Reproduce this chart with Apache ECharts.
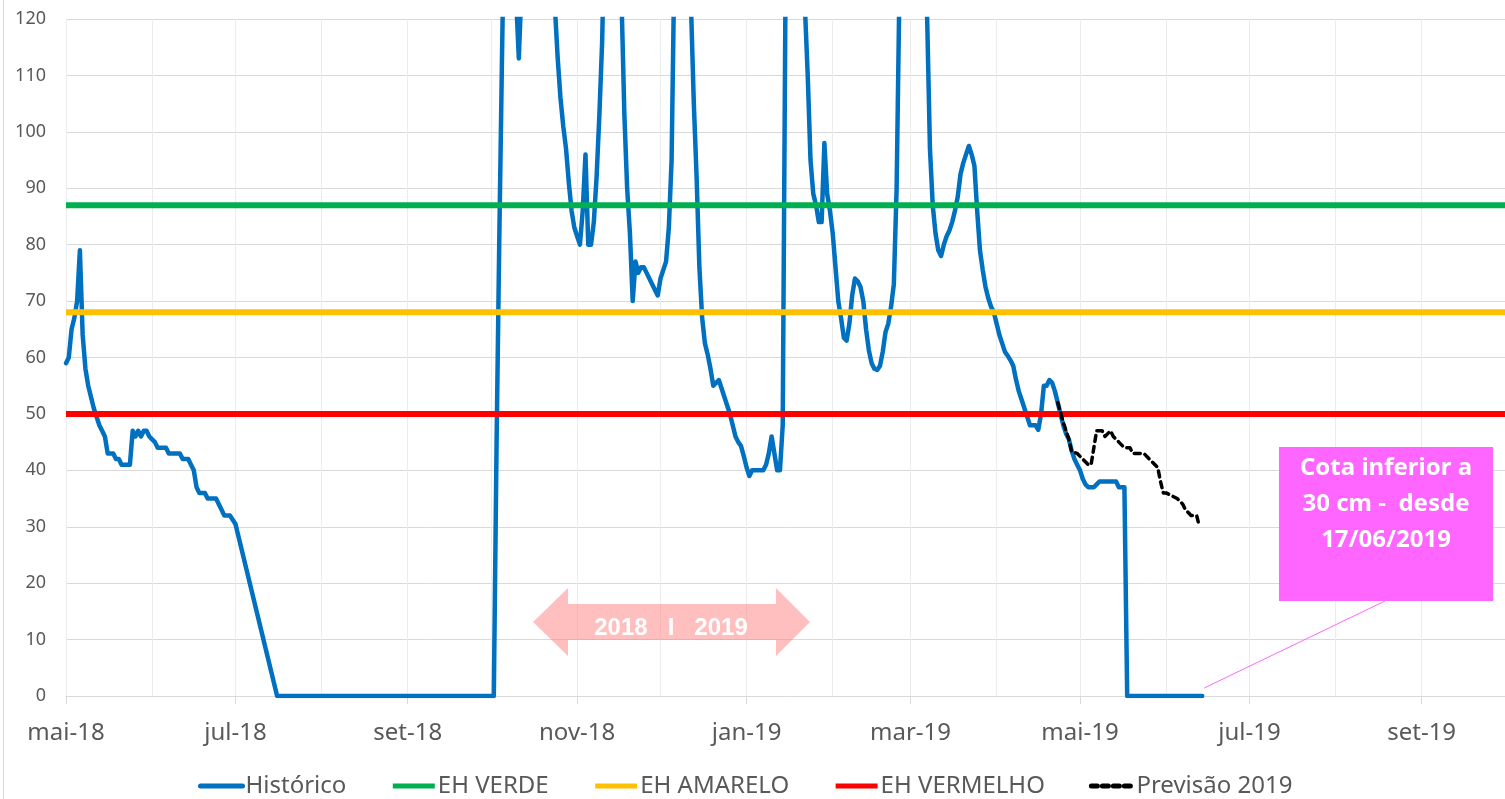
<!DOCTYPE html>
<html>
<head>
<meta charset="utf-8">
<title>Cota - Histórico e Previsão 2019</title>
<script src="https://cdn.jsdelivr.net/npm/echarts@6/dist/echarts.min.js"></script>
<style>
  html, body { margin: 0; padding: 0; background: #ffffff; }
  #chart { width: 1505px; height: 799px; }
</style>
</head>
<body>
<div id="chart"></div>
<script>
  // tick labels
  var monthNames = ['jan', 'fev', 'mar', 'abr', 'mai', 'jun', 'jul', 'ago', 'set', 'out', 'nov', 'dez'];
  var firstDay = '2018-05-01';
  var lastDay = '2019-10-01';

  // Histórico (values above 120 are cut off by the axis)
  var historicoDates = [
    '2018-05-01', '2018-05-02', '2018-05-03', '2018-05-04', '2018-05-05', '2018-05-06', '2018-05-07', '2018-05-08',
    '2018-05-09', '2018-05-10', '2018-05-11', '2018-05-12', '2018-05-13', '2018-05-14', '2018-05-15', '2018-05-16',
    '2018-05-18', '2018-05-19', '2018-05-20', '2018-05-21', '2018-05-24', '2018-05-25', '2018-05-26', '2018-05-27',
    '2018-05-28', '2018-05-29', '2018-05-30', '2018-05-31', '2018-06-01', '2018-06-02', '2018-06-03', '2018-06-06',
    '2018-06-07', '2018-06-11', '2018-06-12', '2018-06-14', '2018-06-15', '2018-06-16', '2018-06-17', '2018-06-18',
    '2018-06-20', '2018-06-21', '2018-06-24', '2018-06-26', '2018-06-27', '2018-06-29', '2018-07-01', '2018-07-16',
    '2018-10-02', '2018-10-03', '2018-10-04', '2018-10-05', '2018-10-06', '2018-10-08', '2018-10-10', '2018-10-11',
    '2018-10-12', '2018-10-14', '2018-10-20', '2018-10-23', '2018-10-24', '2018-10-25', '2018-10-26', '2018-10-27',
    '2018-10-28', '2018-10-29', '2018-10-30', '2018-10-31', '2018-11-01', '2018-11-02', '2018-11-03', '2018-11-04',
    '2018-11-05', '2018-11-06', '2018-11-07', '2018-11-08', '2018-11-09', '2018-11-10', '2018-11-11', '2018-11-14',
    '2018-11-16', '2018-11-17', '2018-11-18', '2018-11-19', '2018-11-20', '2018-11-21', '2018-11-22', '2018-11-23',
    '2018-11-24', '2018-11-25', '2018-11-26', '2018-11-28', '2018-11-30', '2018-12-01', '2018-12-03', '2018-12-04',
    '2018-12-05', '2018-12-06', '2018-12-09', '2018-12-11', '2018-12-12', '2018-12-13', '2018-12-14', '2018-12-15',
    '2018-12-16', '2018-12-17', '2018-12-18', '2018-12-19', '2018-12-20', '2018-12-21', '2018-12-22', '2018-12-23',
    '2018-12-24', '2018-12-25', '2018-12-26', '2018-12-27', '2018-12-28', '2018-12-29', '2018-12-30', '2018-12-31',
    '2019-01-01', '2019-01-02', '2019-01-03', '2019-01-07', '2019-01-08', '2019-01-09', '2019-01-10', '2019-01-12',
    '2019-01-13', '2019-01-14', '2019-01-15', '2019-01-18', '2019-01-21', '2019-01-22', '2019-01-23', '2019-01-24',
    '2019-01-25', '2019-01-26', '2019-01-27', '2019-01-28', '2019-01-29', '2019-01-30', '2019-01-31', '2019-02-01',
    '2019-02-02', '2019-02-03', '2019-02-04', '2019-02-05', '2019-02-06', '2019-02-07', '2019-02-08', '2019-02-09',
    '2019-02-10', '2019-02-11', '2019-02-12', '2019-02-13', '2019-02-14', '2019-02-15', '2019-02-16', '2019-02-17',
    '2019-02-18', '2019-02-19', '2019-02-20', '2019-02-21', '2019-02-22', '2019-02-23', '2019-02-24', '2019-02-25',
    '2019-03-01', '2019-03-05', '2019-03-06', '2019-03-07', '2019-03-08', '2019-03-09', '2019-03-10', '2019-03-11',
    '2019-03-12', '2019-03-13', '2019-03-14', '2019-03-15', '2019-03-16', '2019-03-17', '2019-03-18', '2019-03-19',
    '2019-03-20', '2019-03-21', '2019-03-22', '2019-03-23', '2019-03-24', '2019-03-25', '2019-03-26', '2019-03-27',
    '2019-03-28', '2019-03-29', '2019-03-30', '2019-03-31', '2019-04-01', '2019-04-02', '2019-04-03', '2019-04-04',
    '2019-04-05', '2019-04-06', '2019-04-07', '2019-04-08', '2019-04-09', '2019-04-10', '2019-04-11', '2019-04-12',
    '2019-04-13', '2019-04-15', '2019-04-16', '2019-04-17', '2019-04-18', '2019-04-19', '2019-04-20', '2019-04-21',
    '2019-04-22', '2019-04-23', '2019-04-24', '2019-04-25', '2019-04-26', '2019-04-27', '2019-04-28', '2019-04-29',
    '2019-04-30', '2019-05-01', '2019-05-02', '2019-05-03', '2019-05-04', '2019-05-06', '2019-05-07', '2019-05-08',
    '2019-05-14', '2019-05-15', '2019-05-17', '2019-05-18', '2019-06-14'
  ];
  var historicoValues = [
    59, 60, 65, 67, 70, 79, 64, 58,
    55, 53, 51, 49.5, 48, 47, 46, 43,
    43, 42, 42, 41, 41, 47, 46, 47,
    46, 47, 47, 46, 45.5, 45, 44, 44,
    43, 43, 42, 42, 41, 40, 37, 36,
    36, 35, 35, 33, 32, 32, 30.5, 0,
    0, 45, 82, 115, 145, 150, 124, 113,
    126, 150, 155, 135, 122, 113, 106, 101,
    97, 91, 86, 83, 81.5, 80, 86, 96,
    80, 80, 84, 92, 103, 116, 140, 155,
    140, 123, 103, 90, 82, 70, 77, 75,
    76, 76, 75, 73, 71, 74, 77, 83,
    95, 130, 150, 140, 122, 105, 92, 76,
    67, 62.5, 60.5, 58, 55, 55.5, 56, 54.5,
    53, 51.5, 50, 48, 46, 45, 44.3, 42.5,
    40.5, 39, 40, 40, 41, 43, 46, 40,
    40, 48, 125, 150, 135, 122, 110, 95,
    89, 87, 84, 84, 98, 89, 86, 82,
    76, 70, 67, 63.5, 63, 66, 71, 74,
    73.5, 72.5, 70, 65, 61.3, 59, 58, 57.8,
    58.5, 61, 64.5, 66, 69, 73, 90, 125,
    150, 140, 135, 120, 97, 87, 82, 79,
    78, 80, 81.5, 82.5, 84, 86, 88.5, 92.5,
    94.5, 96, 97.5, 96, 94, 86, 79, 75.5,
    72.5, 70.5, 69, 68, 66, 64, 62.5, 61,
    60.3, 59.5, 58.5, 56, 54, 52.5, 51, 49.5,
    48, 48, 47.2, 50, 55, 55, 56, 55.5,
    54, 52, 50, 48, 46.5, 45.5, 43.5, 42,
    41, 40, 38.5, 37.5, 37, 37, 37.5, 38,
    38, 37, 37, 0, 0
  ];

  // Previsão 2019
  var previsaoDates = [
    '2019-04-23', '2019-04-25', '2019-04-27', '2019-04-28', '2019-04-30', '2019-05-02', '2019-05-04', '2019-05-05',
    '2019-05-06', '2019-05-07', '2019-05-09', '2019-05-10', '2019-05-12', '2019-05-13', '2019-05-15', '2019-05-17',
    '2019-05-19', '2019-05-20', '2019-05-24', '2019-05-26', '2019-05-28', '2019-05-29', '2019-05-30', '2019-05-31',
    '2019-06-01', '2019-06-05', '2019-06-07', '2019-06-08', '2019-06-10', '2019-06-12', '2019-06-13'
  ];
  var previsaoValues = [
    52, 48.5, 45.5, 43.3, 43, 42, 41, 41,
    44, 47, 47, 46, 47, 46, 45, 44,
    44, 43, 43, 42, 41, 40.5, 38, 36,
    36, 35, 34, 33, 32, 32, 30
  ];

  // níveis de referência
  var ehVerde = 87;
  var ehAmarelo = 68;
  var ehVermelho = 50;

  var labelFont = 'Noto Sans';
  var textGray = '#595959';

  function buildDays(from, to) {
    var out = [];
    var d = new Date(from + 'T00:00:00Z');
    var end = new Date(to + 'T00:00:00Z');
    while (d <= end) {
      out.push(d.toISOString().slice(0, 10));
      d.setUTCDate(d.getUTCDate() + 1);
    }
    return out;
  }
  function zip(xs, ys) {
    return xs.map(function (x, i) { return [x, ys[i]]; });
  }
  function isMonthStart(idx, value) {
    return value.slice(8) === '01';
  }
  function isLabelMonth(idx, value) {
    return value.slice(8) === '01' && parseInt(value.slice(5, 7), 10) % 2 === 1;
  }
  function levelLine(v) {
    return [[firstDay, v], [lastDay, v]];
  }

  var days = buildDays(firstDay, lastDay);
  var chart = echarts.init(document.getElementById('chart'));

  chart.setOption({
    animation: false,
    backgroundColor: '#ffffff',
    grid: {
      left: 66,
      top: 19,
      width: 1442,
      height: 677
    },
    legend: {
      left: 198,
      top: 774,
      padding: 0,
      itemWidth: 42,
      itemHeight: 14,
      itemGap: 44,
      itemStyle: { color: 'transparent', borderWidth: 0 },
      lineStyle: { width: 5 },
      textStyle: { color: textGray, fontSize: 24, fontFamily: labelFont, padding: [0, 0, 0, -2] },
      data: ['Histórico', 'EH VERDE', 'EH AMARELO', 'EH VERMELHO', 'Previsão 2019']
    },
    xAxis: {
      type: 'category',
      data: days,
      boundaryGap: false,
      axisLine: { lineStyle: { color: '#d9d9d9', width: 1 } },
      axisTick: { show: true, length: 8, interval: isLabelMonth, lineStyle: { color: '#d9d9d9' } },
      axisLabel: {
        interval: isLabelMonth,
        color: textGray,
        fontSize: 24,
        fontFamily: labelFont,
        margin: 25,
        formatter: function (value) {
          return monthNames[parseInt(value.slice(5, 7), 10) - 1] + '-' + value.slice(2, 4);
        }
      },
      splitLine: { show: true, interval: isMonthStart, lineStyle: { color: '#ececec', width: 1 } }
    },
    yAxis: {
      type: 'value',
      min: 0,
      max: 120,
      interval: 10,
      axisLine: { show: false },
      axisTick: { show: false },
      axisLabel: { color: textGray, fontSize: 18, fontFamily: labelFont, margin: 20 },
      splitLine: { lineStyle: { color: '#d9d9d9', width: 1 } }
    },
    series: [
      {
        name: 'Histórico',
        type: 'line',
        symbol: 'none',
        data: zip(historicoDates, historicoValues),
        itemStyle: { color: '#0070C0' },
        lineStyle: { color: '#0070C0', width: 4.5, join: 'round', cap: 'round' }
      },
      {
        name: 'EH VERDE',
        type: 'line',
        symbol: 'none',
        data: levelLine(ehVerde),
        itemStyle: { color: '#00B050' },
        lineStyle: { color: '#00B050', width: 6 }
      },
      {
        name: 'EH AMARELO',
        type: 'line',
        symbol: 'none',
        data: levelLine(ehAmarelo),
        itemStyle: { color: '#FFC000' },
        lineStyle: { color: '#FFC000', width: 6 }
      },
      {
        name: 'EH VERMELHO',
        type: 'line',
        symbol: 'none',
        data: levelLine(ehVermelho),
        itemStyle: { color: '#FF0000' },
        lineStyle: { color: '#FF0000', width: 6 }
      },
      {
        name: 'Previsão 2019',
        type: 'line',
        symbol: 'none',
        data: zip(previsaoDates, previsaoValues),
        itemStyle: { color: '#000000' },
        lineStyle: { color: '#000000', width: 3.5, type: [6, 5], cap: 'round', join: 'round' }
      }
    ]
  });

  // annotations
  var lastPoint = chart.convertToPixel({ gridIndex: 0 }, [historicoDates[historicoDates.length - 1], 0]);
  chart.setOption({
    graphic: [
      {
        type: 'line',
        shape: { x1: 3.5, y1: 0, x2: 3.5, y2: 799 },
        style: { stroke: '#d9d9d9', lineWidth: 1 },
        silent: true
      },
      {
        type: 'polygon',
        shape: {
          points: [[533, 622], [568, 588], [568, 604], [776, 604], [776, 588], [810, 622],
                   [776, 656], [776, 640], [568, 640], [568, 656]]
        },
        style: { fill: 'rgba(255, 128, 128, 0.5)' },
        z: 10,
        silent: true
      },
      {
        type: 'text',
        x: 671,
        y: 628,
        style: {
          text: '2018   I   2019',
          fill: '#ffffff',
          font: 'bold 24px "Liberation Sans", Arial, sans-serif',
          textAlign: 'center',
          textVerticalAlign: 'middle'
        },
        z: 11,
        silent: true
      },
      {
        type: 'line',
        shape: { x1: lastPoint[0] + 2, y1: lastPoint[1] - 8, x2: 1385, y2: 601 },
        style: { stroke: '#FF66FF', lineWidth: 1 },
        z: 10,
        silent: true
      },
      {
        type: 'rect',
        shape: { x: 1279, y: 447, width: 214, height: 154 },
        style: { fill: '#FF66FF' },
        z: 10,
        silent: true
      },
      {
        type: 'text',
        x: 1386,
        y: 450,
        style: {
          text: 'Cota inferior a\n30 cm -  desde\n17/06/2019',
          fill: '#ffffff',
          font: 'bold 24px "Noto Sans", sans-serif',
          lineHeight: 36,
          textAlign: 'center',
          textVerticalAlign: 'top'
        },
        z: 11,
        silent: true
      }
    ]
  });
</script>
</body>
</html>
